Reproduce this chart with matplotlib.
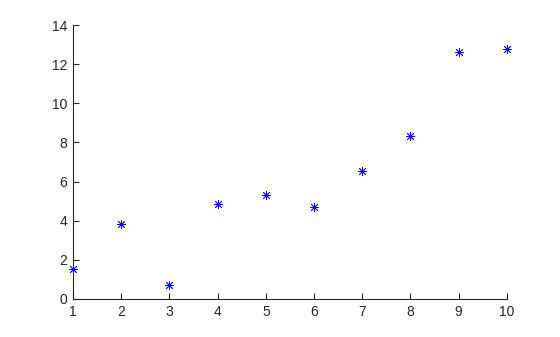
import matplotlib
matplotlib.use("Agg")
import matplotlib.pyplot as plt

x = [1, 2, 3, 4, 5, 6, 7, 8, 9, 10]
y = [1.53, 3.83, 0.72, 4.85, 5.31, 4.70, 6.54, 8.33, 12.62, 12.77]
xticks = [1, 2, 3, 4, 5, 6, 7, 8, 9, 10]
yticks = [0, 2, 4, 6, 8, 10, 12, 14]

plt.rcParams['font.family'] = ['Liberation Sans', 'DejaVu Sans']
fig = plt.figure(figsize=(5.6, 3.37), dpi=100)
ax = fig.add_axes([0.1304, 0.1128, 0.7746, 0.813])
ax.plot(x, y, linestyle='none', marker=(8, 2, 0), markersize=6.5, color='#0000ff',
        markeredgewidth=0.6, clip_on=False)
ax.set_xlim(1, 10)
ax.set_ylim(0, 14)
ax.set_xticks(xticks)
ax.set_yticks(yticks)
ax.spines['top'].set_visible(False)
ax.spines['right'].set_visible(False)
for s in ('left', 'bottom'):
    ax.spines[s].set_color('#262626')
    ax.spines[s].set_linewidth(0.8)
ax.tick_params(direction='in', length=4, width=0.8, color='#262626', labelsize=10,
               labelcolor='#262626', pad=4)
fig.savefig('out.png', dpi=100)
